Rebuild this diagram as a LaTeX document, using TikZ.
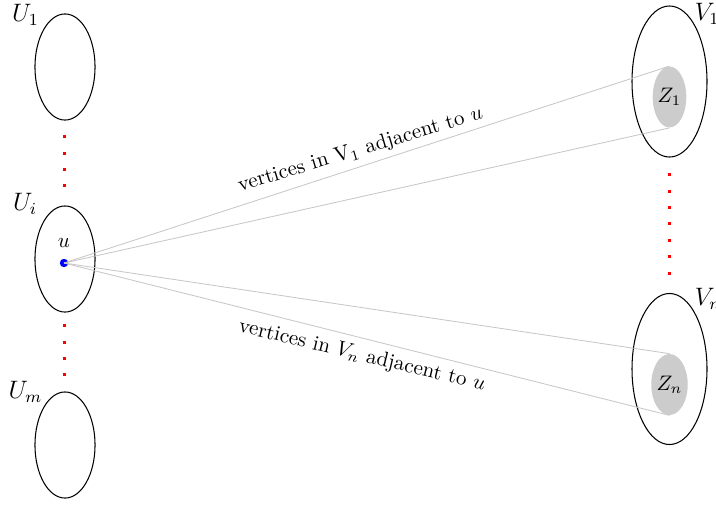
\documentclass[tikz,border=0pt]{standalone}
\usetikzlibrary{shapes.geometric}
\begin{document}
\begin{tikzpicture}[x=0.476pt,y=-0.476pt,
  setU/.style={draw=black, line width=0.5pt, ellipse, minimum width=28.6pt, minimum height=50.5pt, inner sep=0pt},
  setV/.style={draw=black, line width=0.5pt, ellipse, minimum width=35.7pt, minimum height=71.9pt, inner sep=0pt},
  setZ/.style={fill=gray!40, ellipse, minimum width=14.8pt, minimum height=29pt, inner sep=0pt},
  reddots/.style={red, line width=1.4pt, dash pattern=on 1.4pt off 6.4pt},
  adj/.style={draw=black!22, line width=0.4pt},
  lbl/.style={inner sep=0pt},
  biglbl/.style={inner sep=0pt, font=\large}]
\useasboundingbox (0,0) rectangle (716,504);
% left sets
\node[setU] (U1) at (65,67) {};
\node[setU] (Ui) at (65,259) {};
\node[setU] (Um) at (65,445) {};
\node[biglbl] (U1l) at (25.5,14.5) {$U_1$};
\node[biglbl] (Uil) at (25,204) {$U_i$};
\node[biglbl] (Uml) at (25.5,392) {$U_m$};
\coordinate (d1a) at (64.3,135.3);
\coordinate (d1b) at (64.3,190);
\coordinate (d2a) at (64.3,324.3);
\coordinate (d2b) at (64.3,378);
\draw[reddots] (d1a) -- (d1b);
\draw[reddots] (d2a) -- (d2b);
% vertex u
\node[circle, fill=blue, minimum size=4pt, inner sep=0pt] (u) at (64,263) {};
\node[lbl, font=\normalsize] (ul) at (64,243) {$u$};
% right sets
\node[setV] (V1) at (669.5,81.5) {};
\node[setV] (Vn) at (669.5,369) {};
\node[setZ] (Z1) at (669.5,97) {$Z_1$};
\node[setZ] (Zn) at (669.5,384.5) {$Z_n$};
\node[biglbl, anchor=west] (V1l) at (694.5,14) {$V_1$};
\node[biglbl, anchor=west] (Vnl) at (694.5,299) {$V_n$};
\coordinate (d3a) at (669.3,173.3);
\coordinate (d3b) at (669.3,280);
\draw[reddots] (d3a) -- (d3b);
% adjacency lines
\draw[adj] (u.center) -- (Z1.north);
\draw[adj] (u.center) -- (Z1.south);
\draw[adj] (u.center) -- (Zn.north);
\draw[adj] (u.center) -- (Zn.south);
\node[lbl, rotate=16.7] (t1) at (360.5,150) {vertices in V$_1$ adjacent to $u$};
\node[lbl, rotate=-13.5] (t2) at (362,356) {vertices in $V_n$ adjacent to $u$};
\end{tikzpicture}
\end{document}
